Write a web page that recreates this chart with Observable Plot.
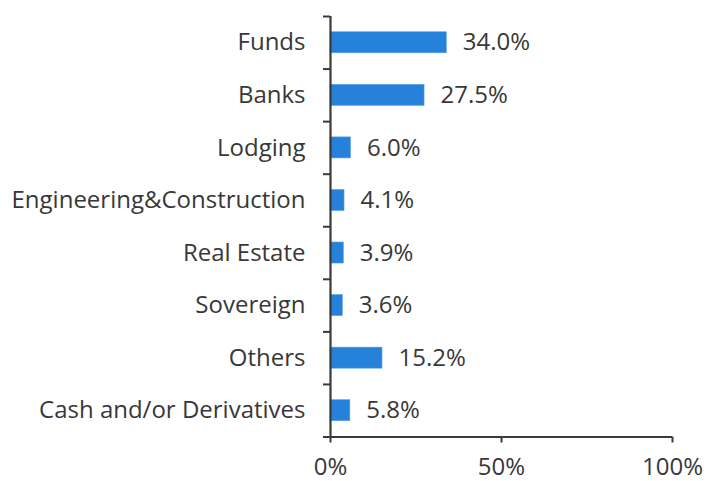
<!DOCTYPE html>
<html><head><meta charset="utf-8">
<script src="https://cdn.jsdelivr.net/npm/d3@7"></script>
<script src="https://cdn.jsdelivr.net/npm/@observablehq/plot@0.6"></script>
<style>
html,body{margin:0;padding:0;background:#fff;}
svg{display:block;}
</style>
</head><body><div id="chart"></div>
<script>
const categories = ["Funds","Banks","Lodging","Engineering&Construction","Real Estate","Sovereign","Others","Cash and/or Derivatives"];
const values = [34.0, 27.5, 6.0, 4.1, 3.9, 3.6, 15.2, 5.8];
const xTicks = [0, 50, 100];

const data = categories.map((c, i) => ({cat: c, i, v: values[i]}));
const font = "Open Sans, sans-serif";
const textColor = "#383838";
const axisColor = "#3a3a3a";
const fs = 24;

const chart = Plot.plot({
  width: 706,
  height: 481,
  marginLeft: 330,
  marginRight: 34,
  marginTop: 16,
  marginBottom: 44.5,
  style: {fontFamily: font, fontSize: fs + "px", color: textColor, background: "#fff"},
  x: {domain: [0, 100], ticks: xTicks, label: null},
  y: {domain: [0, categories.length], reverse: true, label: null},
  marks: [
    Plot.rectX(data, {x1: 0, x2: "v", y1: d => d.i + 0.3, y2: d => d.i + 0.7, fill: "#2581d9", stroke: "#5aa0e6", strokeWidth: 0.6}),
    Plot.text(data, {x: 0, y: d => d.i + 0.5, text: "cat", textAnchor: "end", dx: -25, fill: textColor, fontSize: fs}),
    Plot.text(data, {x: "v", y: d => d.i + 0.5, text: d => d.v.toFixed(1) + "%", textAnchor: "start", dx: 16, fill: textColor, fontSize: fs}),
    Plot.axisY({ticks: d3.range(categories.length + 1), tickFormat: () => "", tickSize: 7, stroke: axisColor, strokeWidth: 2, label: null}),
    Plot.axisX({ticks: xTicks, tickFormat: d => d + "%", tickSize: 6, tickPadding: 15, stroke: axisColor, strokeWidth: 2, fill: textColor, fontSize: fs, label: null}),
    Plot.ruleX([0], {stroke: axisColor, strokeWidth: 2.2}),
    Plot.ruleY([categories.length], {stroke: axisColor, strokeWidth: 2})
  ]
});
document.getElementById("chart").appendChild(chart);
</script>
</body></html>
